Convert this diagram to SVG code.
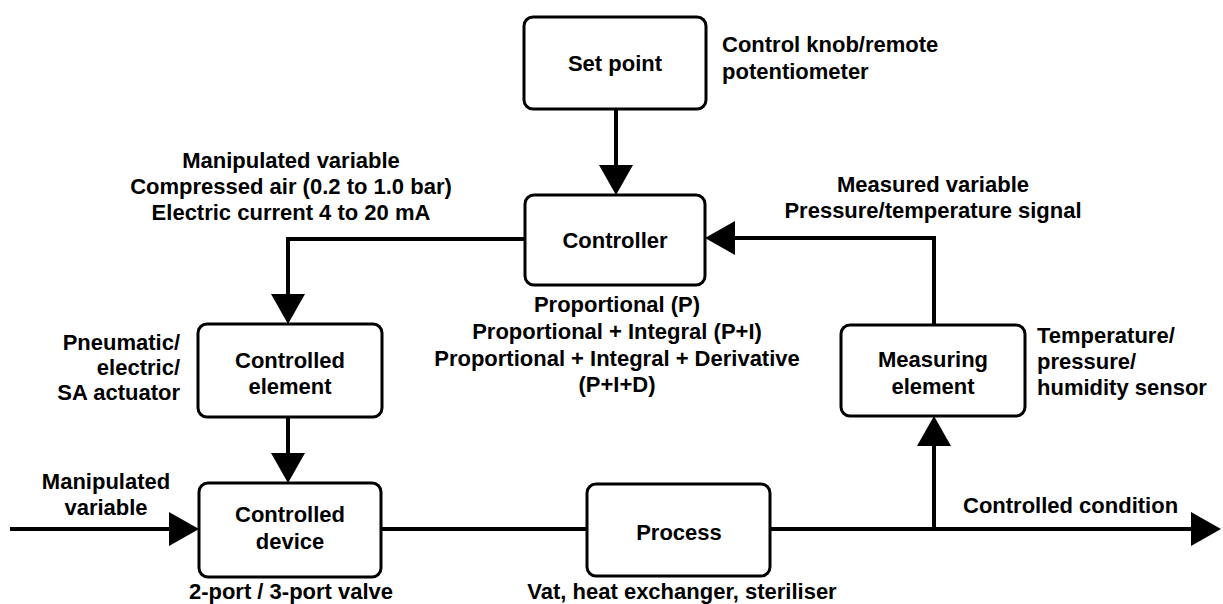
<svg xmlns="http://www.w3.org/2000/svg" width="1223" height="604" viewBox="0 0 1223 604">
  <style>
    .box { fill: #ffffff; stroke: #000000; stroke-width: 3; }
    .wire { fill: none; stroke: #000000; stroke-width: 4; }
    text { font-family: "Liberation Sans", Arial, sans-serif; font-size: 22px; font-weight: bold; fill: #000000; }
    .c { text-anchor: middle; }
    .r { text-anchor: end; }
  </style>
  <defs>
    <marker id="arrow" markerUnits="userSpaceOnUse" markerWidth="30" markerHeight="34" refX="18" refY="17" orient="auto" overflow="visible">
      <path d="M0,0 L30,17 L0,34 Z" fill="#000000"/>
    </marker>
  </defs>
  <rect width="1223" height="604" fill="#ffffff"/>

  <!-- signal and process lines -->
  <g id="connectors">
    <path class="wire" d="M616,109 V183" marker-end="url(#arrow)"/>
    <path class="wire" d="M525,239 H288 V312" marker-end="url(#arrow)"/>
    <path class="wire" d="M288,417 V471" marker-end="url(#arrow)"/>
    <path class="wire" d="M10,529 H187" marker-end="url(#arrow)"/>
    <path class="wire" d="M381,529 H587"/>
    <path class="wire" d="M770,529 H1209" marker-end="url(#arrow)"/>
    <path class="wire" d="M934,529 V428" marker-end="url(#arrow)"/>
    <path class="wire" d="M934,325 V238 H717" marker-end="url(#arrow)"/>
  </g>

  <g id="set-point">
    <rect class="box" x="524" y="17" width="182" height="92" rx="9"/>
    <text class="c" x="615" y="71">Set point</text>
  </g>
  <g id="controller">
    <rect class="box" x="525" y="195" width="180" height="90" rx="9"/>
    <text class="c" x="615" y="248">Controller</text>
  </g>
  <g id="controlled-element">
    <rect class="box" x="198" y="324" width="184" height="93" rx="9"/>
    <text class="c" x="290" y="368">Controlled</text>
    <text class="c" x="290" y="394">element</text>
  </g>
  <g id="controlled-device">
    <rect class="box" x="199" y="483" width="182" height="94" rx="9"/>
    <text class="c" x="290" y="522">Controlled</text>
    <text class="c" x="290" y="549">device</text>
  </g>
  <g id="process">
    <rect class="box" x="587" y="484" width="183" height="92" rx="9"/>
    <text class="c" x="679" y="540">Process</text>
  </g>
  <g id="measuring-element">
    <rect class="box" x="841" y="325" width="184" height="91" rx="9"/>
    <text class="c" x="933" y="367">Measuring</text>
    <text class="c" x="933" y="394">element</text>
  </g>

  <!-- annotations -->
  <g id="labels">
    <text x="722" y="52">Control knob/remote</text>
    <text x="722" y="79">potentiometer</text>

    <text class="c" x="291" y="168">Manipulated variable</text>
    <text class="c" x="291" y="194">Compressed air (0.2 to 1.0 bar)</text>
    <text class="c" x="291" y="220">Electric current 4 to 20 mA</text>

    <text class="c" x="933" y="192">Measured variable</text>
    <text class="c" x="933" y="218">Pressure/temperature signal</text>

    <text class="c" x="617" y="312">Proportional (P)</text>
    <text class="c" x="617" y="339">Proportional + Integral (P+I)</text>
    <text class="c" x="617" y="366">Proportional + Integral + Derivative</text>
    <text class="c" x="617" y="392">(P+I+D)</text>

    <text class="r" x="180" y="350">Pneumatic/</text>
    <text class="r" x="180" y="375">electric/</text>
    <text class="r" x="180" y="400">SA actuator</text>

    <text x="1037" y="343">Temperature/</text>
    <text x="1037" y="369">pressure/</text>
    <text x="1037" y="395">humidity sensor</text>

    <text class="c" x="106" y="489">Manipulated</text>
    <text class="c" x="106" y="515">variable</text>

    <text class="c" x="291" y="599">2-port / 3-port valve</text>
    <text class="c" x="682" y="599">Vat, heat exchanger, steriliser</text>

    <text x="963" y="513">Controlled condition</text>
  </g>
</svg>
